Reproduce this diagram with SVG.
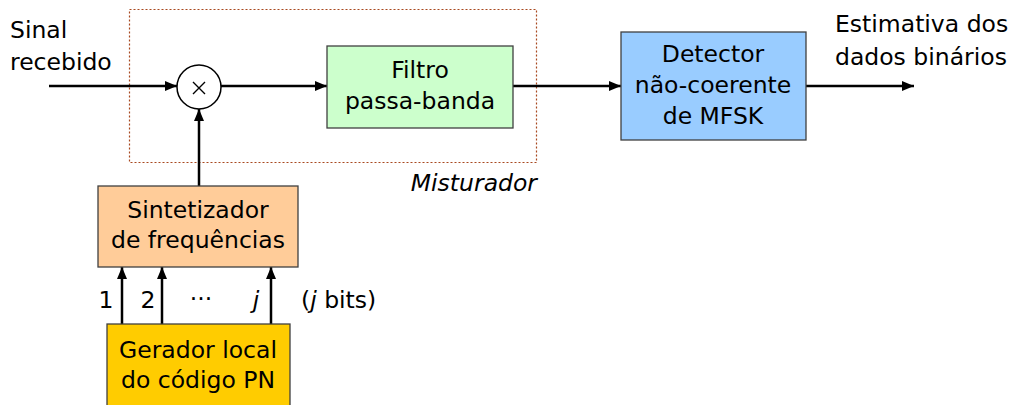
<svg xmlns="http://www.w3.org/2000/svg" width="1009" height="405" viewBox="0 0 1009 405">
  <defs>
    <marker id="arrow" viewBox="0 0 12 10" refX="12" refY="5" markerWidth="12" markerHeight="10" markerUnits="userSpaceOnUse" orient="auto">
      <path d="M0,0 L12,5 L0,10 Z" fill="#000"/>
    </marker>
    <style>
      text { font-family: "DejaVu Sans", "Liberation Sans", sans-serif; font-size: 23.5px; fill: #000; }
      .c { text-anchor: middle; }
      .box { stroke: #404040; stroke-width: 1.3; }
      .wire { stroke: #000; stroke-width: 2.5; fill: none; marker-end: url(#arrow); }
      .it { font-style: italic; }
    </style>
  </defs>

  <rect width="1009" height="405" fill="#fff"/>

  <!-- mixer boundary -->
  <rect x="129.5" y="9.5" width="407" height="153" fill="none" stroke="#A8481F" stroke-width="1.2" stroke-dasharray="2,2"/>
  <text class="it" x="537" y="191" text-anchor="end">Misturador</text>

  <!-- connectors -->
  <g id="connectors">
    <line class="wire" x1="49" y1="86" x2="177" y2="86"/>
    <line class="wire" x1="221" y1="86" x2="327" y2="86"/>
    <line class="wire" x1="513" y1="86" x2="621" y2="86"/>
    <line class="wire" x1="806" y1="86" x2="914" y2="86"/>
    <line class="wire" x1="199" y1="186" x2="199" y2="109"/>
    <line class="wire" x1="122" y1="324" x2="122" y2="267"/>
    <line class="wire" x1="162" y1="324" x2="162" y2="267"/>
    <line class="wire" x1="271" y1="324" x2="271" y2="267"/>
  </g>

  <!-- input / output labels -->
  <g id="input-label">
    <text x="10" y="38">Sinal</text>
    <text x="10" y="70">recebido</text>
  </g>
  <g id="output-label">
    <text x="835" y="32">Estimativa dos</text>
    <text x="835" y="65">dados binários</text>
  </g>

  <!-- multiplier -->
  <g id="multiplier">
    <circle cx="199" cy="87" r="22" fill="#fff" stroke="#000" stroke-width="1.5"/>
    <path d="M193,82 L205,94 M205,82 L193,94" stroke="#000" stroke-width="1.4"/>
  </g>

  <g id="filter">
    <rect class="box" x="327" y="46" width="186" height="82" fill="#CCFFCC"/>
    <text class="c" x="420" y="78">Filtro</text>
    <text class="c" x="420" y="109">passa-banda</text>
  </g>

  <g id="detector">
    <rect class="box" x="621" y="32" width="185" height="108" fill="#99CCFF"/>
    <text class="c" x="713" y="62">Detector</text>
    <text class="c" x="713" y="93">não-coerente</text>
    <text class="c" x="713" y="124">de MFSK</text>
  </g>

  <g id="synthesizer">
    <rect class="box" x="98" y="186" width="200" height="81" fill="#FFCC99"/>
    <text class="c" x="198" y="218">Sintetizador</text>
    <text class="c" x="198" y="248">de frequências</text>
  </g>

  <g id="pn-generator">
    <rect class="box" x="107" y="324" width="183" height="90" fill="#FFCC00"/>
    <text class="c" x="198" y="358">Gerador local</text>
    <text class="c" x="198" y="388">do código PN</text>
  </g>

  <!-- bit line labels -->
  <g id="bit-labels">
    <text class="c" x="106" y="308">1</text>
    <text class="c" x="148" y="308">2</text>
    <text class="c" x="201" y="307">···</text>
    <text class="c it" x="256" y="308">j</text>
    <text x="301" y="308">(<tspan class="it">j</tspan> bits)</text>
  </g>
</svg>
